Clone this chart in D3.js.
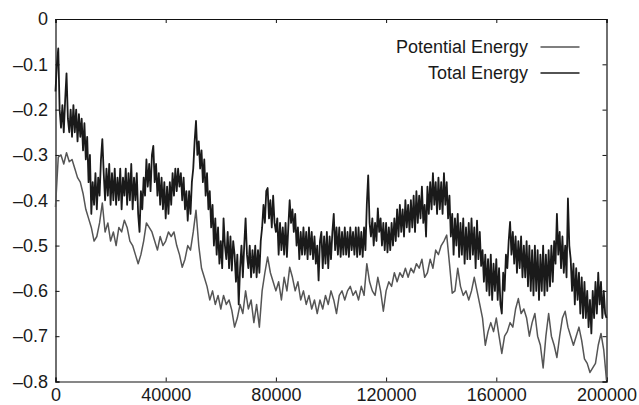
<!DOCTYPE html>
<html>
<head>
<meta charset="utf-8">
<script src="https://cdn.jsdelivr.net/npm/d3@7"></script>
<style>
  body { margin: 0; background: #fff; }
  svg { display: block; font-family: "Liberation Sans", Arial, sans-serif; }
</style>
</head>
<body>
<figure style="margin:0"></figure>
<script>
// total energy sampled every 500 steps (0 .. 200000), one row = 10000
const totalStep = 500
const totalEnergy = [
  -0.16, -0.1, -0.065, -0.2, -0.24, -0.19, -0.25, -0.18, -0.12, -0.22, -0.25, -0.2, -0.26, -0.19, -0.25, -0.2, -0.27, -0.21, -0.26, -0.22,
  -0.29, -0.23, -0.31, -0.26, -0.36, -0.3, -0.43, -0.36, -0.41, -0.34, -0.42, -0.35, -0.39, -0.31, -0.265, -0.34, -0.4, -0.33, -0.39, -0.32,
  -0.41, -0.34, -0.4, -0.33, -0.41, -0.35, -0.4, -0.33, -0.42, -0.35, -0.39, -0.33, -0.41, -0.34, -0.4, -0.32, -0.42, -0.35, -0.4, -0.34,
  -0.43, -0.47, -0.38, -0.42, -0.35, -0.39, -0.31, -0.37, -0.32, -0.38, -0.3, -0.28, -0.36, -0.32, -0.39, -0.34, -0.41, -0.35, -0.42, -0.36,
  -0.44, -0.37, -0.43, -0.36, -0.41, -0.34, -0.39, -0.33, -0.38, -0.33, -0.37, -0.34, -0.4, -0.35, -0.42, -0.38, -0.445, -0.38, -0.43, -0.36,
  -0.33, -0.27, -0.225, -0.3, -0.27, -0.33, -0.29, -0.36, -0.31, -0.39, -0.34, -0.42, -0.38, -0.46, -0.41, -0.5, -0.44, -0.52, -0.46, -0.54,
  -0.49, -0.55, -0.44, -0.5, -0.53, -0.47, -0.55, -0.48, -0.555, -0.49, -0.52, -0.58, -0.52, -0.63, -0.55, -0.5, -0.57, -0.5, -0.44, -0.52,
  -0.55, -0.5, -0.57, -0.51, -0.56, -0.5, -0.57, -0.51, -0.56, -0.49, -0.46, -0.41, -0.45, -0.38, -0.373, -0.44, -0.4, -0.46, -0.39, -0.45,
  -0.47, -0.44, -0.52, -0.45, -0.51, -0.46, -0.52, -0.45, -0.525, -0.46, -0.4, -0.45, -0.42, -0.47, -0.43, -0.5, -0.46, -0.53, -0.47, -0.52,
  -0.46, -0.52, -0.47, -0.53, -0.46, -0.52, -0.47, -0.53, -0.48, -0.54, -0.5, -0.577, -0.49, -0.47, -0.55, -0.48, -0.54, -0.47, -0.55, -0.48,
  -0.53, -0.47, -0.43, -0.51, -0.46, -0.52, -0.46, -0.525, -0.47, -0.52, -0.46, -0.52, -0.47, -0.525, -0.46, -0.51, -0.47, -0.52, -0.46, -0.525,
  -0.46, -0.52, -0.47, -0.525, -0.46, -0.51, -0.41, -0.345, -0.45, -0.48, -0.44, -0.5, -0.45, -0.49, -0.418, -0.47, -0.44, -0.5, -0.45, -0.51,
  -0.45, -0.515, -0.46, -0.51, -0.45, -0.5, -0.44, -0.49, -0.42, -0.48, -0.41, -0.47, -0.42, -0.48, -0.4, -0.46, -0.41, -0.47, -0.4, -0.46,
  -0.39, -0.47, -0.38, -0.45, -0.39, -0.44, -0.37, -0.45, -0.41, -0.48, -0.37, -0.43, -0.36, -0.42, -0.34, -0.41, -0.36, -0.43, -0.35, -0.42,
  -0.36, -0.43, -0.34, -0.41, -0.36, -0.44, -0.39, -0.48, -0.43, -0.52, -0.44, -0.5, -0.43, -0.525, -0.45, -0.52, -0.44, -0.54, -0.46, -0.53,
  -0.45, -0.53, -0.44, -0.52, -0.46, -0.55, -0.445, -0.53, -0.47, -0.545, -0.51, -0.58, -0.52, -0.6, -0.53, -0.61, -0.52, -0.62, -0.54, -0.6,
  -0.53, -0.62, -0.55, -0.63, -0.65, -0.56, -0.6, -0.52, -0.55, -0.49, -0.448, -0.52, -0.47, -0.54, -0.48, -0.56, -0.49, -0.55, -0.48, -0.57,
  -0.5, -0.57, -0.49, -0.59, -0.5, -0.6, -0.51, -0.61, -0.5, -0.6, -0.51, -0.62, -0.52, -0.6, -0.5, -0.61, -0.52, -0.6, -0.51, -0.59,
  -0.5, -0.58, -0.49, -0.54, -0.43, -0.52, -0.47, -0.55, -0.48, -0.56, -0.5, -0.57, -0.396, -0.5, -0.53, -0.6, -0.54, -0.63, -0.55, -0.62,
  -0.56, -0.65, -0.57, -0.66, -0.58, -0.66, -0.6, -0.68, -0.62, -0.694, -0.6, -0.66, -0.58, -0.65, -0.56, -0.63, -0.58, -0.66, -0.6, -0.65,
  -0.66
]

// potential energy sampled every 1000 steps, one row = 10000
const potentialStep = 1000
const potentialEnergy = [
  -0.415, -0.305, -0.3, -0.32, -0.295, -0.315, -0.31, -0.33, -0.35, -0.36,
  -0.385, -0.42, -0.44, -0.46, -0.49, -0.48, -0.45, -0.406, -0.47, -0.45,
  -0.49, -0.47, -0.5, -0.46, -0.47, -0.444, -0.46, -0.49, -0.5, -0.52,
  -0.54, -0.52, -0.49, -0.45, -0.46, -0.47, -0.49, -0.51, -0.48, -0.5,
  -0.49, -0.47, -0.48, -0.47, -0.5, -0.52, -0.548, -0.53, -0.5, -0.51,
  -0.47, -0.422, -0.5, -0.55, -0.57, -0.59, -0.62, -0.6, -0.63, -0.61,
  -0.64, -0.61, -0.63, -0.62, -0.643, -0.68, -0.66, -0.63, -0.65, -0.6,
  -0.64, -0.62, -0.67, -0.63, -0.68, -0.6, -0.56, -0.525, -0.56, -0.58,
  -0.6, -0.58, -0.62, -0.57, -0.6, -0.548, -0.57, -0.6, -0.58, -0.62,
  -0.6, -0.63, -0.61, -0.64, -0.62, -0.65, -0.62, -0.64, -0.61, -0.63,
  -0.6, -0.62, -0.65, -0.61, -0.6, -0.62, -0.6, -0.59, -0.61, -0.6,
  -0.62, -0.59, -0.61, -0.54, -0.58, -0.6, -0.61, -0.57, -0.6, -0.645,
  -0.6, -0.58, -0.59, -0.56, -0.58, -0.56, -0.57, -0.55, -0.57, -0.55,
  -0.56, -0.54, -0.55, -0.53, -0.57, -0.56, -0.53, -0.55, -0.51, -0.52,
  -0.5, -0.49, -0.477, -0.54, -0.605, -0.6, -0.55, -0.59, -0.61, -0.6,
  -0.62, -0.6, -0.57, -0.6, -0.63, -0.66, -0.72, -0.69, -0.67, -0.69,
  -0.66, -0.7, -0.738, -0.7, -0.69, -0.67, -0.68, -0.64, -0.617, -0.65,
  -0.64, -0.66, -0.7, -0.67, -0.65, -0.7, -0.72, -0.77, -0.7, -0.65,
  -0.7, -0.72, -0.747, -0.7, -0.66, -0.645, -0.68, -0.7, -0.72, -0.7,
  -0.68, -0.71, -0.75, -0.76, -0.78, -0.77, -0.76, -0.72, -0.694, -0.73,
  -0.797
]

const xTicks = [0, 40000, 80000, 120000, 160000, 200000]
const yTicks = [0, -0.1, -0.2, -0.3, -0.4, -0.5, -0.6, -0.7, -0.8]

const series = [
  { name: 'Potential Energy', values: potentialEnergy, step: potentialStep, color: '#555555', width: 1.5 },
  { name: 'Total Energy', values: totalEnergy, step: totalStep, color: '#1a1a1a', width: 1.8 }
]

////////////////////////////////////
///////////// SVG Setup ////////////
////////////////////////////////////

const svgWidth = 639
const svgHeight = 405

const margin = { left: 55.5, right: 32.5, top: 19, bottom: 23.5 }
const width = svgWidth - margin.left - margin.right
const height = svgHeight - margin.top - margin.bottom

const svg = d3.select('figure')
  .append('svg')
  .attr('width', svgWidth)
  .attr('height', svgHeight)
  .append('g')
  .attr('transform', 'translate(' + margin.left + ',' + margin.top + ')')

////////////////////////////////////
///////////// Scales ///////////////
////////////////////////////////////

const x = d3.scaleLinear().domain([0, 200000]).range([0, width])
const y = d3.scaleLinear().domain([-0.8, 0]).range([height, 0])

const fmtY = d => d === 0 ? '0' : '\u2013' + Math.abs(d).toFixed(1)

// axes with inward ticks, mirrored on top / right like gnuplot
svg.append('g')
  .attr('transform', 'translate(0,' + height + ')')
  .call(d3.axisBottom(x).tickValues(xTicks).tickSize(-4).tickPadding(7).tickFormat(d3.format('d')))
svg.append('g')
  .call(d3.axisTop(x).tickValues(xTicks).tickSize(-4).tickFormat(''))
svg.append('g')
  .call(d3.axisLeft(y).tickValues(yTicks).tickSize(-4).tickPadding(7.5).tickFormat(fmtY))
svg.append('g')
  .attr('transform', 'translate(' + width + ',0)')
  .call(d3.axisRight(y).tickValues(yTicks).tickSize(-4).tickFormat(''))

svg.selectAll('.domain').attr('stroke', '#111').attr('stroke-width', 1.2)
svg.selectAll('.tick line').attr('stroke', '#111')
svg.selectAll('.tick text')
  .style('font-size', '18px')
  .attr('fill', '#1a1a1a')

////////////////////////////////////
///////////// Lines ////////////////
////////////////////////////////////

svg.append('g')
  .selectAll('path')
  .data(series)
  .enter().append('path')
  .attr('fill', 'none')
  .attr('stroke', d => d.color)
  .attr('stroke-width', d => d.width)
  .attr('stroke-linejoin', 'round')
  .attr('d', d => d3.line()
    .x((v, i) => x(i * d.step))
    .y(v => y(v))(d.values))

////////////////////////////////////
///////////// Legend ///////////////
////////////////////////////////////

const legend = svg.append('g')
  .selectAll('g')
  .data(series)
  .enter().append('g')
  .attr('transform', (d, i) => 'translate(0,' + (28 + i * 26) + ')')

legend.append('text')
  .attr('x', 472.5)
  .attr('dy', '0.35em')
  .attr('text-anchor', 'end')
  .style('font-size', '18px')
  .attr('fill', '#1a1a1a')
  .text(d => d.name)

legend.append('line')
  .attr('x1', 485)
  .attr('x2', 524)
  .attr('stroke', d => d.color)
  .attr('stroke-width', 1.3)
</script>
</body>
</html>
